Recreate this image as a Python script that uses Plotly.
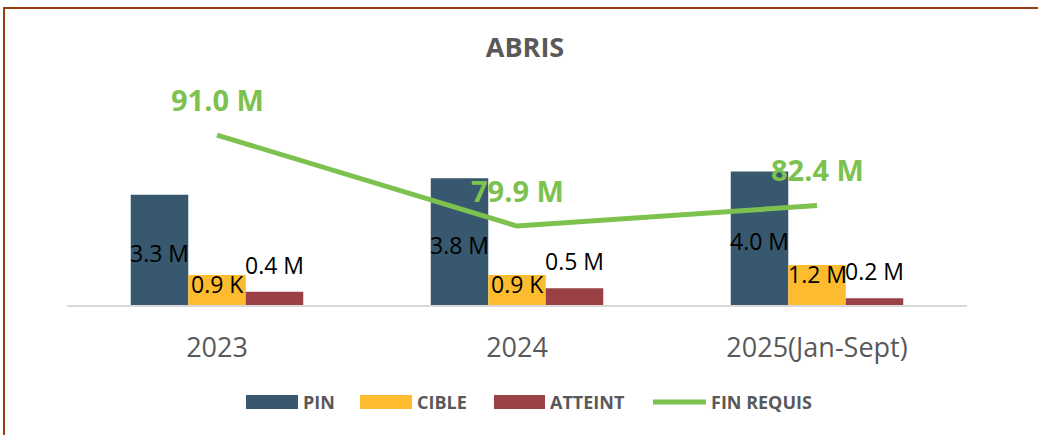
import plotly.graph_objects as go

categories = ["2023", "2024", "2025(Jan-Sept)"]
pin = [3.3, 3.8, 4.0]
cible = [0.9, 0.9, 1.2]
atteint = [0.4, 0.5, 0.2]
fin_requis = [91.0, 79.9, 82.4]

pin_labels = ["3.3 M", "3.8 M", "4.0 M"]
cible_labels = ["0.9 K", "0.9 K", "1.2 M"]
atteint_labels = ["0.4 M", "0.5 M", "0.2 M"]
fin_labels = ["91.0 M", "79.9 M", "82.4 M"]

C_PIN = "#37586e"
C_CIBLE = "#fdbb30"
C_ATT = "#994145"
C_FIN = "#7dc24f"
GREY = "#595959"
FONT = "Open Sans"

fig = go.Figure()
fig.add_bar(x=categories, y=pin, name="PIN", marker_color=C_PIN, marker_line_width=0)
fig.add_bar(x=categories, y=cible, name="CIBLE", marker_color=C_CIBLE, marker_line_width=0)
fig.add_bar(x=categories, y=atteint, name="ATTEINT", marker_color=C_ATT, marker_line_width=0)
fig.add_scatter(x=categories, y=fin_requis, name="FIN REQUIS", mode="lines",
                line=dict(color=C_FIN, width=5), yaxis="y2")

W, H = 1038, 435
ml, mr, mt, mb = 67, 71, 70, 130
bar_px = 57.5

annotations = []
for i, c in enumerate(categories):
    annotations.append(dict(x=i, y=pin[i] / 2, xref="x", yref="y", text=pin_labels[i],
                            showarrow=False, xshift=-bar_px, yshift=-3,
                            font=dict(family=FONT, size=23, color="#000000")))
    annotations.append(dict(x=i, y=cible[i], xref="x", yref="y", text=cible_labels[i],
                            showarrow=False, xshift=0, yshift=-9,
                            font=dict(family=FONT, size=23, color="#000000")))
    annotations.append(dict(x=i, y=atteint[i], xref="x", yref="y", text=atteint_labels[i],
                            showarrow=False, xshift=bar_px, yshift=27,
                            font=dict(family=FONT, size=23, color="#000000")))
    annotations.append(dict(x=i, y=fin_requis[i], xref="x", yref="y2", text="<b>" + fin_labels[i] + "</b>",
                            showarrow=False, yshift=36,
                            font=dict(family=FONT, size=29, color=C_FIN)))

# manual legend
legend_items = [("PIN", "rect", C_PIN, 246, 298),
                ("CIBLE", "rect", C_CIBLE, 360, 412),
                ("ATTEINT", "rect", C_ATT, 494, 545),
                ("FIN REQUIS", "line", C_FIN, 653, 706)]
PW, PH = W - ml - mr, H - mt - mb
shapes = []
ly = 402
for name, kind, col, x0, x1 in legend_items:
    if kind == "rect":
        shapes.append(dict(type="rect", xref="paper", yref="paper",
                           x0=(x0 - ml) / PW, x1=(x1 - ml) / PW,
                           y0=(H - mb - (ly + 7)) / PH, y1=(H - mb - (ly - 7)) / PH,
                           fillcolor=col, line=dict(width=0)))
    else:
        shapes.append(dict(type="line", xref="paper", yref="paper",
                           x0=(x0 - ml) / PW, x1=(x1 - ml) / PW,
                           y0=(H - mb - ly) / PH, y1=(H - mb - ly) / PH,
                           line=dict(color=col, width=5)))
    annotations.append(dict(x=(x1 + 3 - ml) / PW, y=(H - mb - ly) / PH,
                            xref="paper", yref="paper", xanchor="left", yanchor="middle",
                            text="<b>" + name + "</b>", showarrow=False,
                            font=dict(family=FONT, size=18, color=GREY)))

# border (top and left)
shapes.append(dict(type="line", xref="paper", yref="paper",
                   x0=(3 - ml) / PW, x1=(W - ml) / PW,
                   y0=(H - mb - 8) / PH, y1=(H - mb - 8) / PH,
                   line=dict(color="#9a3d12", width=2)))
shapes.append(dict(type="line", xref="paper", yref="paper",
                   x0=(4 - ml) / PW, x1=(4 - ml) / PW,
                   y0=(H - mb - 8) / PH, y1=(H - mb - H) / PH,
                   line=dict(color="#9a3d12", width=2)))

fig.update_layout(
    width=W, height=H,
    margin=dict(l=ml, r=mr, t=mt, b=mb),
    paper_bgcolor="white", plot_bgcolor="white",
    barmode="group", bargap=0.425, bargroupgap=0,
    showlegend=False,
    title=dict(text="<b>ABRIS</b>", x=(525 - ml) / PW, xref="paper", xanchor="center",
               y=1 - 48 / H, yanchor="middle",
               font=dict(family=FONT, size=27, color=GREY)),
    xaxis=dict(type="category", range=[-0.5, 2.5], showgrid=False, showline=True,
               linecolor="#d9d9d9", linewidth=2, ticks="", ticklabelstandoff=18,
               tickfont=dict(family=FONT, size=27, color=GREY)),
    yaxis=dict(range=[0, 7.04], visible=False, showgrid=False, zeroline=False),
    yaxis2=dict(range=[70.27, 98.93], overlaying="y", visible=False, showgrid=False, zeroline=False),
    annotations=annotations,
    shapes=shapes,
)

fig.write_html("out.html", config={"displayModeBar": False},
               post_script="document.body.style.margin='0';document.body.style.padding='0';")
